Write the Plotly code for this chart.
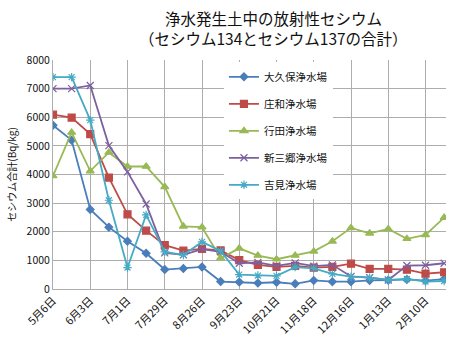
import plotly.graph_objects as go

dates = ["5月6日", "5月20日", "6月3日", "6月17日", "7月1日", "7月15日", "7月29日", "8月12日",
         "8月26日", "9月9日", "9月23日", "10月7日", "10月21日", "11月4日", "11月18日", "12月2日",
         "12月16日", "12月30日", "1月13日", "1月27日", "2月10日", "2月24日"]

okubo = [5720, 5200, 2780, 2160, 1670, 1250, 680, 720, 770, 260, 245, 210, 235, 180, 300, 255,
         255, 300, 310, 335, 290, 345]
showa = [6090, 5990, 5410, 3890, 2610, 2040, 1530, 1340, 1400, 1350, 1010, 840, 775, 810, 745, 775,
         885, 700, 700, 675, 540, 585]
gyoda = [3950, 5470, 4120, 4770, 4280, 4280, 3570, 2190, 2160, 1080, 1420, 1170, 1040, 1170, 1315, 1665,
         2135, 1945, 2100, 1755, 1890, 2495]
shinmisato = [7000, 7000, 7110, 5010, 4090, 2970, 1260, 1190, 1395, 1300, 900, 930, 810, 910, 800, 845,
              440, 395, 315, 820, 830, 900]
yoshimi = [7400, 7400, 5900, 3100, 750, 2590, 1300, 1190, 1645, 1330, 505, 470, 460, 765, 720, 530,
           430, 395, 315, 350, 260, 280]

names = ["大久保浄水場", "庄和浄水場", "行田浄水場", "新三郷浄水場", "吉見浄水場"]
series = [okubo, showa, gyoda, shinmisato, yoshimi]
colors = ["#4A7EBB", "#BE4B48", "#98B954", "#7D60A0", "#46AAC5"]
symbols = ["diamond", "square", "triangle-up", "x-thin-open", "asterisk-open"]
sizes = [6, 7, 7, 7, 7]

tick_dates = dates[::2]
y_ticks = [0, 1000, 2000, 3000, 4000, 5000, 6000, 7000, 8000]

title_lines = ["浄水発生土中の放射性セシウム", "（セシウム134とセシウム137の合計）"]

FONT = "Noto Sans CJK JP"

fig = go.Figure()
for n, s, c, sym, sz in zip(names, series, colors, symbols, sizes):
    fig.add_trace(go.Scatter(
        x=dates, y=s, name=n, legendgroup=n, mode="lines+markers",
        line=dict(color=c, width=1.8),
        marker=dict(symbol=sym, size=sz, color=c, line=dict(color=c, width=1.2)),
    ))

# title lines as paper annotations
for txt, yy in zip(title_lines, [1.183, 1.094]):
    fig.add_annotation(
        text=txt, xref="paper", yref="paper", x=0.56, y=yy,
        xanchor="center", yanchor="middle", showarrow=False,
        font=dict(family=FONT, size=15.5, color="#111"),
    )

fig.update_layout(
    width=455, height=346,
    margin=dict(l=53, r=9, t=60, b=51),
    paper_bgcolor="white", plot_bgcolor="white",
    font=dict(family=FONT, size=10, color="#222"),
    showlegend=True,
    legend=dict(
        x=0.435, y=0.99, xanchor="left", yanchor="top",
        bgcolor="white", borderwidth=0,
        font=dict(family=FONT, size=10.5, color="#111"),
        tracegroupgap=8, itemwidth=30,
    ),
    xaxis=dict(
        type="category", categoryorder="array", categoryarray=dates,
        tickmode="array", tickvals=tick_dates, ticktext=tick_dates,
        tickangle=-45, range=[0, 21.1],
        showgrid=True, gridcolor="#ADADAD", gridwidth=1,
        showline=True, linecolor="#ADADAD", ticks="",
        tickfont=dict(family=FONT, size=11, color="#111"),
        zeroline=False,
    ),
    yaxis=dict(
        range=[0, 8000], tickvals=y_ticks,
        showgrid=True, gridcolor="#ADADAD", gridwidth=1,
        showline=True, linecolor="#ADADAD", ticks="",
        tickfont=dict(family=FONT, size=10.5, color="#111"),
        title=dict(text="セシウム合計(Bq/kg)", font=dict(family=FONT, size=10, color="#111"), standoff=8),
        zeroline=False,
    ),
)

fig.write_html("out.html")
